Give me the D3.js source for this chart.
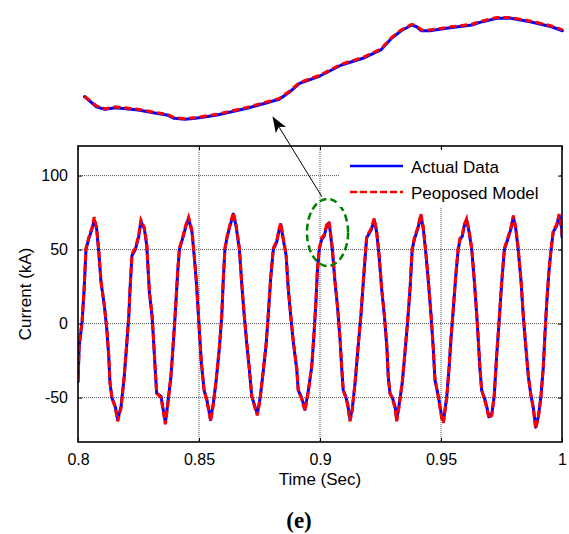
<!DOCTYPE html>
<html>
<head>
<meta charset="utf-8">
<script src="https://cdn.jsdelivr.net/npm/d3@7/dist/d3.min.js"></script>
<style>
  html, body { margin: 0; padding: 0; background: #fff; }
  svg { display: block; }
  text { font-family: "Liberation Sans", Arial, Helvetica, sans-serif; fill: #000; }
</style>
</head>
<body>
<svg id="chart" width="569" height="534"></svg>
<script>
// ---------------- data ----------------
const timeSec = [
  0.8000,0.8005,0.8017,0.8026,0.8033,0.8044,0.8058,0.8067,0.8077,0.8086,
  0.8095,0.8109,0.8119,0.8127,0.8132,0.8140,0.8154,0.8164,0.8178,0.8191,
  0.8201,0.8210,0.8215,0.8223,0.8237,0.8251,0.8260,0.8274,0.8284,0.8295,
  0.8306,0.8311,0.8319,0.8325,0.8343,0.8350,0.8361,0.8371,0.8384,0.8394,
  0.8402,0.8412,0.8419,0.8435,0.8446,0.8457,0.8471,0.8481,0.8490,0.8501,
  0.8510,0.8521,0.8532,0.8548,0.8559,0.8570,0.8584,0.8594,0.8600,0.8607,
  0.8617,0.8628,0.8642,0.8653,0.8667,0.8676,0.8686,0.8697,0.8708,0.8718,
  0.8731,0.8741,0.8752,0.8763,0.8777,0.8786,0.8796,0.8807,0.8821,0.8832,
  0.8838,0.8848,0.8860,0.8869,0.8879,0.8890,0.8904,0.8910,0.8924,0.8938,
  0.8952,0.8966,0.8975,0.8983,0.8989,0.8997,0.9007,0.9017,0.9028,0.9037,
  0.9041,0.9051,0.9062,0.9073,0.9083,0.9090,0.9096,0.9106,0.9114,0.9124,
  0.9133,0.9145,0.9158,0.9169,0.9179,0.9189,0.9193,0.9211,0.9224,0.9234,
  0.9244,0.9255,0.9266,0.9276,0.9282,0.9289,0.9299,0.9310,0.9317,0.9326,
  0.9340,0.9351,0.9362,0.9372,0.9381,0.9390,0.9404,0.9417,0.9427,0.9437,
  0.9448,0.9459,0.9468,0.9475,0.9489,0.9503,0.9510,0.9524,0.9533,0.9541,
  0.9551,0.9561,0.9571,0.9579,0.9588,0.9596,0.9606,0.9616,0.9627,0.9638,
  0.9648,0.9654,0.9661,0.9668,0.9679,0.9689,0.9698,0.9710,0.9720,0.9730,
  0.9740,0.9751,0.9762,0.9776,0.9789,0.9799,0.9809,0.9819,0.9831,0.9840,
  0.9850,0.9861,0.9872,0.9881,0.9891,0.9902,0.9913,0.9923,0.9930,0.9937,
  0.9946,0.9955,0.9964,0.9978,0.9988,0.9999,1.0000
];
const actualKA = [
  -40,-15,1,25,50,57,64,70,64,48,
  28,12,-4,-22,-40,-50,-56,-65,-56,-36,
  -15,5,23,46,50,59,69,64,53,21,
  5,-8,-31,-47,-49,-56,-67,-54,-36,-13,
  7,35,50,59,66,71,62,44,26,-4,
  -27,-45,-51,-65,-54,-40,-17,5,28,50,
  59,66,74,66,50,28,7,-13,-31,-49,
  -56,-61,-51,-36,-15,5,30,50,55,64,
  67,57,46,23,5,-13,-31,-45,-50,-58,
  -45,-29,-8,14,35,50,57,59,66,68,
  64,50,28,10,-11,-31,-45,-49,-54,-65,
  -58,-40,-15,5,28,50,58,63,70,62,
  46,23,5,-15,-36,-47,-50,-56,-65,-56,
  -40,-20,1,23,50,57,64,73,64,48,
  28,5,-17,-38,-49,-63,-66,-49,-31,-11,
  10,32,50,57,59,66,70,62,50,28,
  5,-11,-31,-45,-50,-56,-63,-61,-49,-22,
  1,28,50,57,64,72,64,50,28,5,
  -15,-36,-49,-56,-70,-63,-49,-29,-6,14,
  35,50,62,66,73,64,58
];
const modelKA = [
  -39,-14,2,26,51,58,65,72,65,49,
  29,12,-3,-21,-39,-50,-57,-66,-57,-35,
  -14,6,24,47,51,60,70,65,54,22,
  6,-7,-30,-47,-50,-57,-68,-55,-35,-12,
  8,36,51,60,67,72,63,45,27,-3,
  -26,-45,-52,-66,-55,-39,-16,6,29,51,
  60,67,75,67,51,29,8,-12,-30,-49,
  -57,-62,-52,-35,-14,6,31,51,56,65,
  68,58,47,24,6,-12,-30,-45,-51,-59,
  -46,-28,-7,15,36,51,58,60,67,69,
  65,51,29,11,-10,-30,-45,-50,-55,-66,
  -59,-39,-14,6,29,51,59,64,71,63,
  47,24,6,-14,-35,-47,-51,-57,-66,-57,
  -39,-19,2,24,51,58,65,74,65,49,
  29,6,-16,-37,-50,-64,-67,-50,-30,-10,
  11,33,51,58,60,67,71,63,51,29,
  6,-10,-30,-45,-51,-57,-64,-62,-48,-21,
  2,29,51,58,65,73,65,51,29,6,
  -14,-35,-49,-57,-71,-64,-50,-28,-5,15,
  36,51,63,67,74,65,59
];
const seriesNames = ["Actual Data", "Peoposed Model"];
const seriesColors = ["#0000ff", "#ff0000"];
const xTicks = [0.8, 0.85, 0.9, 0.95, 1];
const xTickLabels = ["0.8", "0.85", "0.9", "0.95", "1"];
const yTicks = [-50, 0, 50, 100];
const yTickLabels = ["-50", "0", "50", "100"];
const xLabel = "Time (Sec)";
const yLabel = "Current (kA)";
const caption = "(e)";

// zoomed-in inset (peak near 0.9 s)
const insetTime = [
  0.90000,0.90010,0.90017,0.90026,0.90045,0.90060,0.90069,0.90075,0.90084,0.90093,
  0.90111,0.90136,0.90163,0.90172,0.90180,0.90197,0.90215,0.90233,0.90248,0.90257,
  0.90265,0.90274,0.90278,0.90282,0.90289,0.90303,0.90324,0.90333,0.90345,0.90357,
  0.90373,0.90391,0.90400
];
const insetActual = [
  59.27,57.92,57.57,57.79,57.48,57.04,56.81,56.36,56.23,56.36,
  56.81,57.71,58.92,59.94,61.07,62.06,63.54,64.44,65.56,67.13,
  68.15,68.92,68.69,68.15,68.15,68.48,68.92,69.37,69.82,69.82,
  69.37,68.69,68.15
];
const insetModel = [
  59.35,58.02,57.66,57.90,57.58,57.13,56.90,56.45,56.32,56.46,
  56.92,57.83,59.04,60.06,61.18,62.17,63.66,64.56,65.68,67.24,
  68.26,69.02,68.79,68.26,68.26,68.59,69.03,69.48,69.92,69.92,
  69.47,68.80,68.26
];
// annotation: highlighted region and arrow (data units)
const ellipseCenter = [0.9031, 61.6];
const ellipseRadii = [0.0085, 22.7];
const arrowFrom = [0.9008, 85.7];
const arrowTo = [0.8806, 139.4];

// ---------------- layout ----------------
const svg = d3.select("#chart");
const plot = { left: 78, right: 562, top: 146, bottom: 442 };
const x = d3.scaleLinear().domain([0.8, 1.0]).range([plot.left, plot.right]);
const y = d3.scaleLinear().domain([-80, 120]).range([plot.bottom, plot.top]);

const ix = d3.scaleLinear().domain([0.9, 0.904]).range([84.5, 562.4]);
const iy = d3.scaleLinear().domain([56, 70]).range([121, 17]);

svg.append("rect").attr("width", 569).attr("height", 534).attr("fill", "#fff");

// defs
const defs = svg.append("defs");
defs.append("clipPath").attr("id", "clip")
  .append("rect")
  .attr("x", plot.left).attr("y", plot.top)
  .attr("width", plot.right - plot.left).attr("height", plot.bottom - plot.top);
defs.append("marker")
  .attr("id", "arrowhead")
  .attr("viewBox", "0 0 16 12")
  .attr("refX", 15).attr("refY", 6)
  .attr("markerWidth", 16).attr("markerHeight", 12)
  .attr("markerUnits", "userSpaceOnUse")
  .attr("orient", "auto")
  .append("path")
  .attr("d", "M0,0 L16,6 L0,12 L4,6 Z")
  .attr("fill", "#000");

// ---------------- inset ----------------
const insetLine = (vals) => d3.line().x((d, i) => ix(insetTime[i])).y(d => iy(d))(vals);
svg.append("path").attr("d", insetLine(insetActual))
  .attr("fill", "none").attr("stroke", seriesColors[0]).attr("stroke-width", 3)
  .attr("stroke-linejoin", "round").attr("stroke-linecap", "round");
svg.append("path").attr("d", insetLine(insetModel))
  .attr("fill", "none").attr("stroke", seriesColors[1]).attr("stroke-width", 3)
  .attr("stroke-dasharray", "7,4");

// ---------------- grid ----------------
const grid = svg.append("g");
grid.selectAll("line.gx").data(xTicks.slice(1, -1)).join("line")
  .attr("x1", d => x(d)).attr("x2", d => x(d))
  .attr("y1", plot.top).attr("y2", plot.bottom)
  .attr("stroke", "#555").attr("stroke-width", 1).attr("stroke-dasharray", "1,1");
grid.selectAll("line.gy").data(yTicks).join("line")
  .attr("y1", d => y(d)).attr("y2", d => y(d))
  .attr("x1", plot.left).attr("x2", plot.right)
  .attr("stroke", "#555").attr("stroke-width", 1).attr("stroke-dasharray", "1,1");

// ---------------- series ----------------
const lineGen = (vals) => d3.line().x((d, i) => x(timeSec[i])).y(d => y(d))(vals);
const series = svg.append("g").attr("clip-path", "url(#clip)");
series.append("path").attr("d", lineGen(actualKA))
  .attr("fill", "none").attr("stroke", seriesColors[0]).attr("stroke-width", 3)
  .attr("stroke-linejoin", "round");
series.append("path").attr("d", lineGen(modelKA))
  .attr("fill", "none").attr("stroke", seriesColors[1]).attr("stroke-width", 3)
  .attr("stroke-dasharray", "7,3");

// ---------------- annotation ----------------
svg.append("ellipse")
  .attr("cx", x(ellipseCenter[0])).attr("cy", y(ellipseCenter[1]))
  .attr("rx", x(ellipseCenter[0] + ellipseRadii[0]) - x(ellipseCenter[0]))
  .attr("ry", y(ellipseCenter[1]) - y(ellipseCenter[1] + ellipseRadii[1]))
  .attr("fill", "none").attr("stroke", "#008000").attr("stroke-width", 2.5)
  .attr("stroke-dasharray", "7,4");

// ---------------- legend ----------------
const legend = svg.append("g");
legend.append("rect").attr("x", 339).attr("y", 149).attr("width", 221).attr("height", 58)
  .attr("fill", "#fff");
seriesNames.forEach((name, i) => {
  const ly = 166 + i * 26;
  legend.append("line").attr("x1", 350).attr("x2", 403).attr("y1", ly).attr("y2", ly)
    .attr("stroke", seriesColors[i]).attr("stroke-width", 2.6)
    .attr("stroke-dasharray", i === 1 ? "7,3" : null);
  legend.append("text").attr("x", 411).attr("y", ly + 7)
    .attr("font-size", 17).text(name);
});

// arrow
svg.append("line")
  .attr("x1", x(arrowFrom[0])).attr("y1", y(arrowFrom[1]))
  .attr("x2", x(arrowTo[0])).attr("y2", y(arrowTo[1]))
  .attr("stroke", "#000").attr("stroke-width", 1)
  .attr("marker-end", "url(#arrowhead)");

// ---------------- axes ----------------
const tickLen = 4;
const axB = svg.append("g").attr("transform", `translate(0,${plot.bottom})`)
  .call(d3.axisBottom(x).tickValues(xTicks).tickFormat((d, i) => xTickLabels[i]).tickSizeInner(-tickLen).tickSizeOuter(0).tickPadding(12));
const axT = svg.append("g").attr("transform", `translate(0,${plot.top})`)
  .call(d3.axisTop(x).tickValues(xTicks).tickFormat("").tickSizeInner(-tickLen).tickSizeOuter(0));
const axL = svg.append("g").attr("transform", `translate(${plot.left},0)`)
  .call(d3.axisLeft(y).tickValues(yTicks).tickFormat((d, i) => yTickLabels[i]).tickSizeInner(-tickLen).tickSizeOuter(0).tickPadding(10));
const axR = svg.append("g").attr("transform", `translate(${plot.right},0)`)
  .call(d3.axisRight(y).tickValues(yTicks).tickFormat("").tickSizeInner(-tickLen).tickSizeOuter(0));
[axB, axT, axL, axR].forEach(g => {
  g.select(".domain").remove();
  g.selectAll(".tick line").attr("stroke", "#000").attr("stroke-width", 1);
  g.selectAll(".tick text").attr("font-size", 16).attr("font-family", "Liberation Sans, Arial, sans-serif").attr("fill", "#000");
});
axB.selectAll(".tick text").attr("dy", "0.71em");

svg.append("rect")
  .attr("x", plot.left).attr("y", plot.top)
  .attr("width", plot.right - plot.left).attr("height", plot.bottom - plot.top)
  .attr("fill", "none").attr("stroke", "#000").attr("stroke-width", 1.6);

// labels
svg.append("text").attr("x", x(0.9)).attr("y", 485).attr("text-anchor", "middle")
  .attr("font-size", 17).text(xLabel);
svg.append("text").attr("transform", `translate(31,${(plot.top + plot.bottom) / 2}) rotate(-90)`)
  .attr("text-anchor", "middle").attr("font-size", 17).text(yLabel);
svg.append("text").attr("x", 299).attr("y", 528).attr("text-anchor", "middle")
  .style("font-size", "23px").style("font-weight", "bold")
  .style("font-family", "'Liberation Serif', 'Times New Roman', serif").text(caption);
</script>
</body>
</html>
